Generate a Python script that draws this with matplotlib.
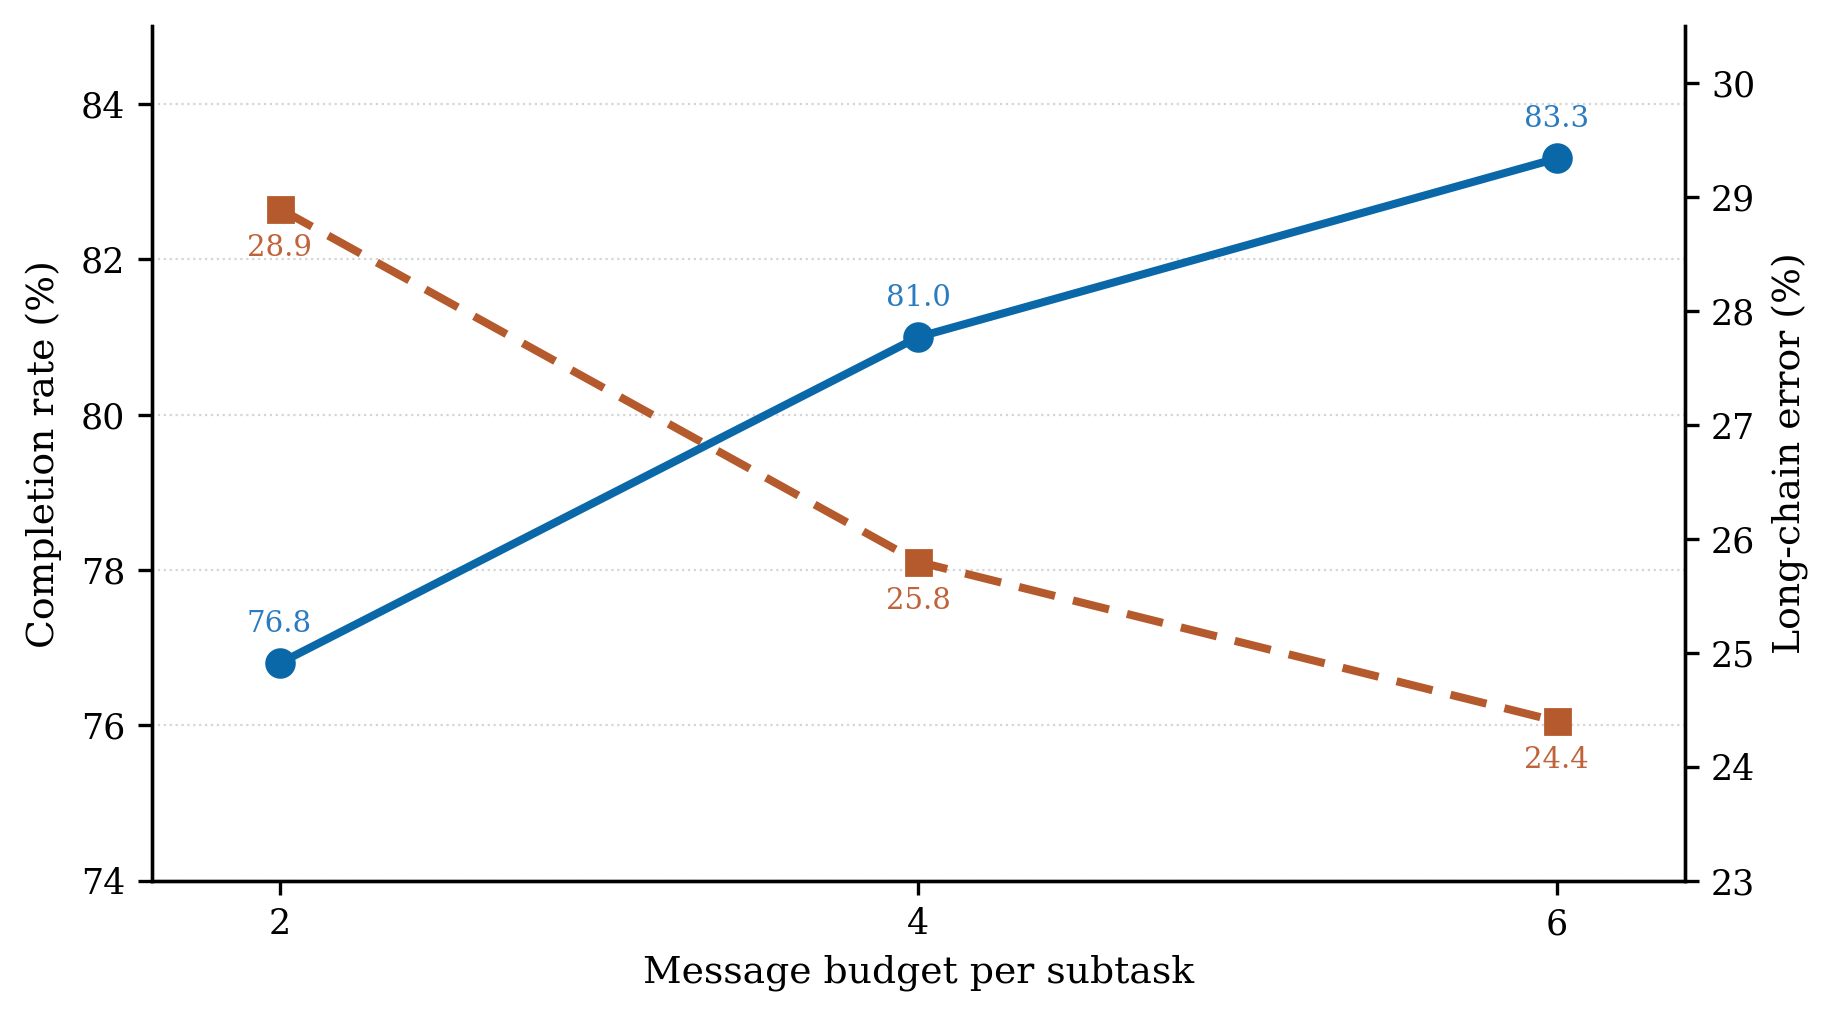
import matplotlib
matplotlib.use('Agg')
import matplotlib.pyplot as plt

budget = [2, 4, 6]
completion = [76.8, 81.0, 83.3]
long_chain_error = [28.9, 25.8, 24.4]

blue = '#0b68a8'
orange = '#b55a2c'

plt.rcParams['font.family'] = 'DejaVu Serif'

fig = plt.figure(figsize=(9.145, 5.085), dpi=200)
ax = fig.add_axes([0.083, 0.134, 0.838, 0.840])
ax2 = ax.twinx()

ax.plot(budget, completion, color=blue, lw=2.9, marker='o', ms=10, zorder=3)
ax2.plot(budget, long_chain_error, color=orange, lw=2.9, ls=(0, (4.6, 2.3)),
         marker='s', ms=9, zorder=3)

for x, y in zip(budget, completion):
    ax.annotate(f'{y:.1f}', (x, y), xytext=(0, 9), textcoords='offset points',
                ha='center', va='bottom', color='#2a7bbf', fontsize=10.5)
for x, y in zip(budget, long_chain_error):
    ax2.annotate(f'{y:.1f}', (x, y), xytext=(0, -9), textcoords='offset points',
                 ha='center', va='top', color='#c0633a', fontsize=10.5)

ax.set_xlim(1.6, 6.4)
ax.set_ylim(74, 85)
ax2.set_ylim(23, 30.5)
ax.set_xticks(budget)
ax.set_yticks([74, 76, 78, 80, 82, 84])
ax2.set_yticks([23, 24, 25, 26, 27, 28, 29, 30])

ax.grid(axis='y', ls=':', color='#d5d5d5', lw=0.8)
ax.set_axisbelow(True)

ax.set_xlabel('Message budget per subtask', fontsize=13.6, labelpad=5)
ax.set_ylabel('Completion rate (%)', fontsize=13.6, labelpad=7)
ax2.set_ylabel('Long-chain error (%)', fontsize=13.6, labelpad=6)

for a in (ax, ax2):
    a.spines['top'].set_visible(False)
    for s in a.spines.values():
        s.set_linewidth(1.2)
    a.tick_params(labelsize=12.5, width=1.2, length=5, pad=4.5)

fig.savefig('out.png', dpi=200)
